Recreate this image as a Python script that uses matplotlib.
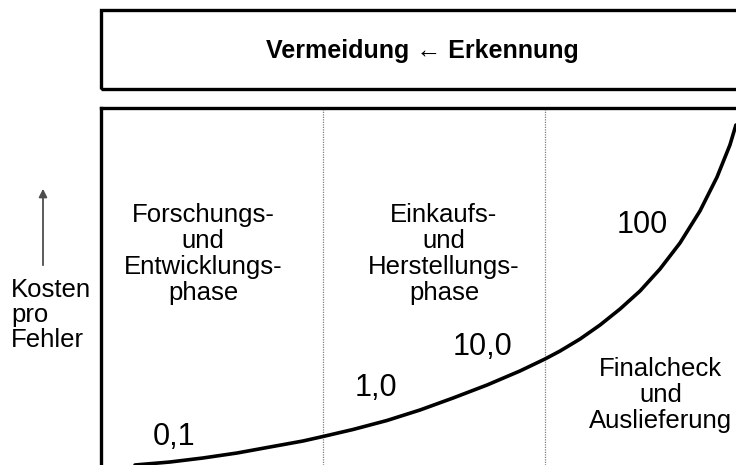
import matplotlib
matplotlib.use("Agg")
import matplotlib.pyplot as plt
from matplotlib.patches import Rectangle

plt.rcParams['font.family'] = ['Liberation Sans', 'DejaVu Sans']

# Kostenkurve (x in Phasen, y = Höhe im Kasten)
kurve_x = [0.153, 0.311, 0.459, 0.613, 0.761, 0.910, 1.000, 1.135, 1.288, 1.437, 1.586,
           1.739, 1.887, 2.000, 2.068, 2.158, 2.248, 2.338, 2.428, 2.518, 2.608, 2.698,
           2.775, 2.833, 2.860]
kurve_y = [0, 3, 7, 12, 18, 24, 28.5, 35.5, 44.5, 55, 67,
           80, 94, 106, 114, 126, 140, 156, 174, 196, 222, 254,
           288, 320, 340]

phasen_grenzen = [1, 2]
phasen_texte = ["Forschungs-\nund\nEntwicklungs-\nphase",
                "Einkaufs-\nund\nHerstellungs-\nphase",
                "Finalcheck\nund\nAuslieferung"]
phasen_pos = [(0.46, 211), (1.545, 211), (2.52, 70)]

kosten_texte = ["0,1", "1,0", "10,0", "100"]
kosten_pos = [(0.33, 28), (1.24, 77), (1.72, 118), (2.44, 240)]

W, H = 736, 465
fig = plt.figure(figsize=(W / 100, H / 100), dpi=100)

# Hauptkasten
ax = fig.add_axes([101 / W, 0, (W - 101) / W, (H - 108) / H])
ax.set_xlim(0, (W - 101) / 222)
ax.set_ylim(0, H - 108)
ax.set_xticks([])
ax.set_yticks([])
for s in ["right", "bottom"]:
    ax.spines[s].set_visible(False)
for s in ["left", "top"]:
    ax.spines[s].set_linewidth(2.4)

for g in phasen_grenzen:
    ax.axvline(g, color="0.5", lw=0.9, ls=(0, (1, 1)))

ax.plot(kurve_x, kurve_y, color="black", lw=2.6, solid_capstyle="round",
        solid_joinstyle="round")

for t, (x, y) in zip(phasen_texte, phasen_pos):
    ax.text(x, y, t, ha="center", va="center", fontsize=18.5, linespacing=1.1)

for t, (x, y) in zip(kosten_texte, kosten_pos):
    ax.text(x, y, t, ha="center", va="center", fontsize=22)

# oberer Kasten
fig.add_artist(Rectangle((101 / W, 1 - 89 / H), 0.95, 79 / H, transform=fig.transFigure,
                         fill=False, lw=2.4, ec="black", clip_on=False))
fig.text(422 / W, 1 - 51 / H, "Vermeidung \u2190 Erkennung", ha="center", va="center",
         fontsize=18, fontweight="bold")

# Achsenbeschriftung links
ax.annotate("", xy=(43 / W, 1 - 186 / H), xytext=(43 / W, 1 - 268 / H),
            xycoords="figure fraction", textcoords="figure fraction", annotation_clip=False,
            arrowprops=dict(arrowstyle="-|>", color="0.3", lw=1.3, mutation_scale=12))
fig.text(11 / W, 1 - 315 / H, "Kosten\npro\nFehler", ha="left", va="center",
         fontsize=18.5, linespacing=1.05)

fig.savefig("out.png", dpi=100)
